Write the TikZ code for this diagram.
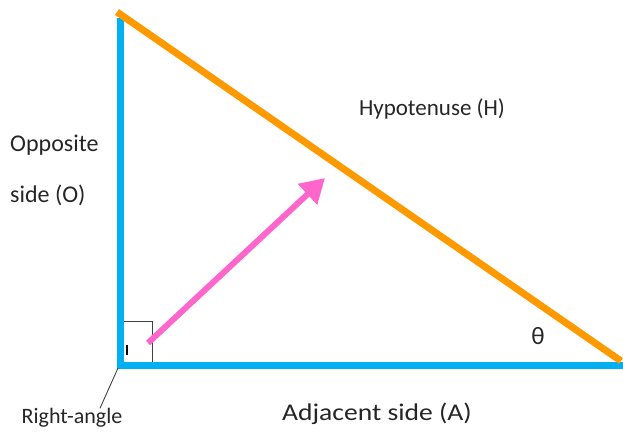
\documentclass[tikz,border=0pt]{standalone}
\usepackage{fontspec}
\setmainfont{Carlito}
\usetikzlibrary{arrows.meta, positioning}
\definecolor{Side_Blue}{HTML}{00B0F0}
\definecolor{Hyp_Orange}{HTML}{FF9900}
\definecolor{Arrow_Pink}{HTML}{FF66CC}
\definecolor{Mark_Gray}{HTML}{404040}

\begin{document}
\begin{tikzpicture}[x=1pt, y=-1pt,
    side/.style={line width=7pt, Side_Blue},
    hyp/.style={line width=7pt, Hyp_Orange},
    lbl/.style={font=\fontsize{24}{28}\selectfont, text=black!85, inner sep=0pt}]
    \useasboundingbox (0,0) rectangle (623,436);

    % ===== Corners of the triangle =====
    \coordinate (top) at (120,18);
    \coordinate (corner) at (120,365);
    \coordinate (far) at (623,365);
    \coordinate (hyptop) at (117,12);
    \coordinate (hypend) at (621,361);

    % Right-angle box
    \draw[Mark_Gray, line width=1pt] (corner) rectangle (152,321);
    \draw[black, line width=1.6pt] (127,345) -- (127,355);

    % Opposite and adjacent sides
    \draw[side, line join=miter] (top) -- (corner) -- (far);

    % Hypotenuse
    \draw[hyp] (hyptop) -- (hypend);

    % Arrow across the triangle
    \coordinate (arrstart) at (148,343);
    \coordinate (arrtip) at (325,178);
    \draw[-{Triangle[length=24pt, width=27pt]}, line width=6pt, Arrow_Pink] (arrstart) -- (arrtip);

    % ===== Labels =====
    \node[lbl, font=\fontsize{23}{28}\selectfont] (hyplabel) at (432,109) {Hypotenuse (H)};
    \node[lbl, anchor=west, align=left, font=\fontsize{24}{51}\selectfont] (opplabel) at (10,170) {Opposite\\side (O)};
    \node[lbl] (adjlabel) at (377,414) {\scalebox{1.15}[1]{Adjacent side (A)}};
    \node[lbl, font=\fontsize{25}{28}\selectfont] (thetalabel) at (538,336) {θ};
    \node[lbl, font=\fontsize{22}{26}\selectfont] (ralabel) at (72,418) {Right-angle};

    % Leader to the corner
    \coordinate (leadtop) at (118,368);
    \draw[Mark_Gray, line width=0.9pt] (leadtop) -- (ralabel.north -| 100,0);
\end{tikzpicture}
\end{document}
